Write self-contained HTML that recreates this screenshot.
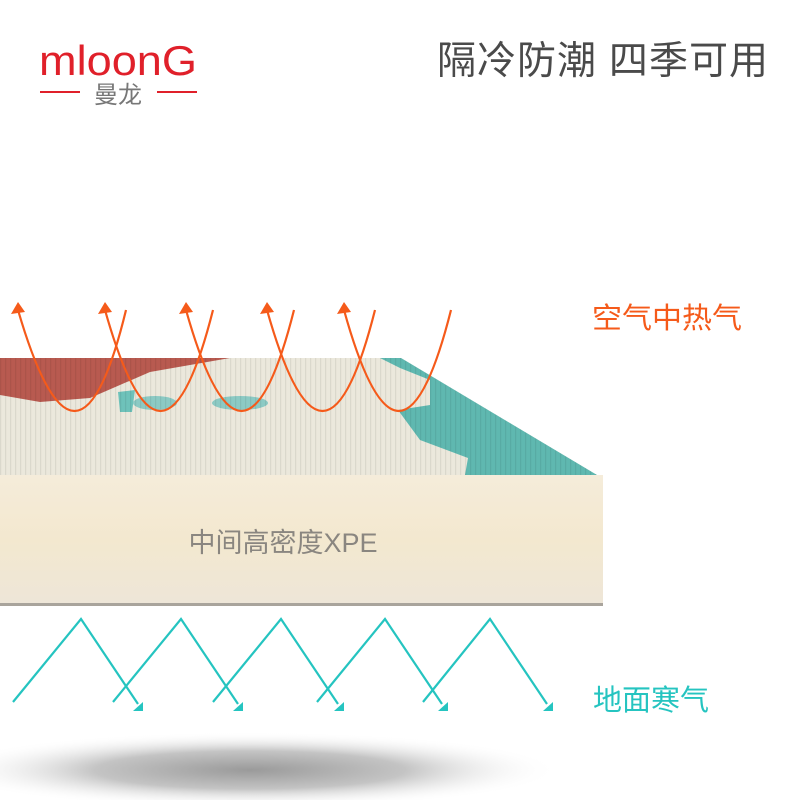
<!DOCTYPE html>
<html><head><meta charset="utf-8">
<style>
html,body{margin:0;padding:0;background:#fff;width:800px;height:800px;overflow:hidden}
svg{display:block}
</style></head>
<body>
<svg width="800" height="800" viewBox="0 0 800 800" xmlns="http://www.w3.org/2000/svg">
<defs>
  <radialGradient id="sh" cx="50%" cy="50%" r="50%">
    <stop offset="0" stop-color="#9a9a9a"/>
    <stop offset="0.5" stop-color="#c4c4c4"/>
    <stop offset="1" stop-color="#fff" stop-opacity="0"/>
  </radialGradient>
  <linearGradient id="front" x1="0" y1="0" x2="0" y2="1">
    <stop offset="0" stop-color="#f5ecda"/>
    <stop offset="0.5" stop-color="#f3e8cf"/>
    <stop offset="1" stop-color="#eee6d8"/>
  </linearGradient>
  <pattern id="ribs" width="5" height="6" patternUnits="userSpaceOnUse">
    <rect width="5" height="6" fill="none"/>
    <rect x="0" width="1.2" height="6" fill="#000" opacity="0.07"/>
  </pattern>
</defs>

<ellipse cx="250" cy="770" rx="310" ry="38" fill="url(#sh)"/>

<polygon points="0,358 401,358 597,475 0,475" fill="#ebe8dc"/>
<polygon points="0,358 230,358 150,372 90,398 40,402 0,395" fill="#b85a50"/>
<polygon points="380,358 401,358 597,475 465,475 468,458 420,440 398,410 430,405 430,380 400,368" fill="#5fb8b0"/>
<polygon points="118,392 135,390 132,412 120,412" fill="#6ec2ba"/>
<ellipse cx="155" cy="403" rx="22" ry="7" fill="#8ccac4"/>
<ellipse cx="240" cy="403" rx="28" ry="7" fill="#8ccac4"/>
<polygon points="0,358 401,358 597,475 0,475" fill="url(#ribs)"/>
<rect x="0" y="475" width="603" height="130" fill="url(#front)"/>
<rect x="0" y="603" width="603" height="3" fill="#a9a49c"/>
<text x="283" y="552" font-family="'Liberation Sans','Noto Sans CJK SC',sans-serif" font-size="27" fill="#8a8680" text-anchor="middle">中间高密度XPE</text>

<g fill="none" stroke="#f55a1a" stroke-width="2.2">
  <path d="M18,310 Q77,512 126,310"/>
  <path d="M105,310 Q162,512 213,310"/>
  <path d="M186,310 Q243,512 294,310"/>
  <path d="M267,310 Q324,512 375,310"/>
  <path d="M344,310 Q400,512 451,310"/>
</g>
<g fill="#f55a1a">
  <polygon points="18,302 11,314 25,312"/>
  <polygon points="105,302 98,314 112,312"/>
  <polygon points="186,302 179,314 193,312"/>
  <polygon points="267,302 260,314 274,312"/>
  <polygon points="344,302 337,314 351,312"/>
</g>

<g fill="none" stroke="#25c4c0" stroke-width="2.2">
  <polyline points="13,702 81,619 138,704"/>
  <polyline points="113,702 181,619 238,704"/>
  <polyline points="213,702 281,619 338,704"/>
  <polyline points="317,702 385,619 442,704"/>
  <polyline points="423,702 490,619 547,704"/>
</g>
<g fill="#25c4c0">
  <polygon points="143,702 143,711 133,711"/>
  <polygon points="243,702 243,711 233,711"/>
  <polygon points="344,702 344,711 334,711"/>
  <polygon points="448,702 448,711 438,711"/>
  <polygon points="553,702 553,711 543,711"/>
</g>

<text x="592" y="328" font-family="'Liberation Sans','Noto Sans CJK SC',sans-serif" font-size="29" fill="#f55a1a" textLength="150" lengthAdjust="spacingAndGlyphs">空气中热气</text>
<text x="593" y="710" font-family="'Liberation Sans','Noto Sans CJK SC',sans-serif" font-size="29" fill="#25c4c0">地面寒气</text>

<text x="437" y="74" font-family="'Liberation Sans','Noto Sans CJK SC',sans-serif" font-size="39" fill="#4a4a4a" textLength="331" lengthAdjust="spacing">隔冷防潮 四季可用</text>

<text x="39" y="75" font-family="'Liberation Sans',sans-serif" font-size="42" fill="#e0202a" textLength="158" lengthAdjust="spacingAndGlyphs">mloonG</text>
<rect x="40" y="91" width="40" height="2" fill="#e0202a"/>
<rect x="157" y="91" width="40" height="2" fill="#e0202a"/>
<text x="118" y="103" font-family="'Liberation Sans','Noto Sans CJK SC',sans-serif" font-size="24" fill="#777" text-anchor="middle">曼龙</text>
</svg>
</body></html>
